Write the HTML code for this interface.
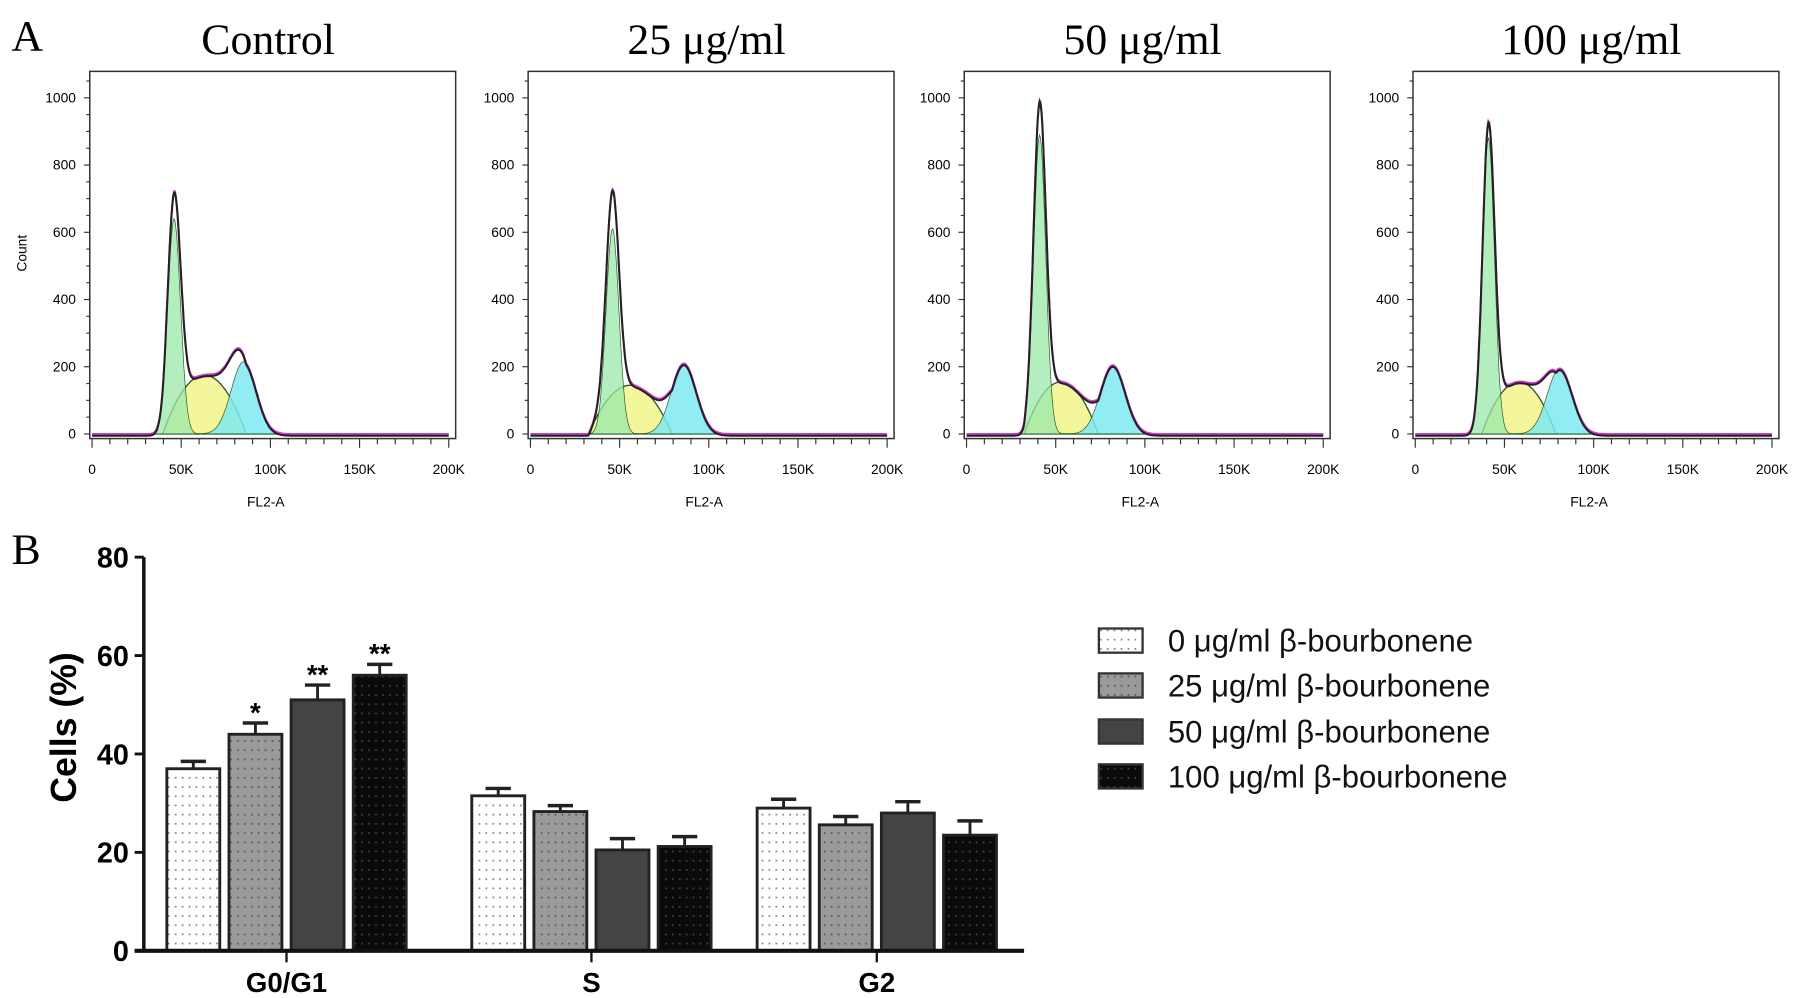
<!DOCTYPE html>
<html><head><meta charset="utf-8"><style>
html,body{margin:0;padding:0;background:#fff;}
svg{display:block;}
</style></head><body>
<svg id="fig" width="1795" height="998" viewBox="0 0 1560 867" preserveAspectRatio="none" xmlns="http://www.w3.org/2000/svg">
<defs>
<pattern id="pDotW" width="6" height="8" patternUnits="userSpaceOnUse"><rect width="6" height="8" fill="#fff"/><rect x="2" y="3" width="1.4" height="1.4" fill="#777"/></pattern>
<pattern id="pDotG" width="6" height="8" patternUnits="userSpaceOnUse"><rect width="6" height="8" fill="#9a9a9a"/><rect x="2" y="3" width="1.5" height="1.5" fill="#555"/></pattern>
<pattern id="pDotK" width="6" height="8" patternUnits="userSpaceOnUse"><rect width="6" height="8" fill="#0a0a0a"/><rect x="2" y="3" width="1.5" height="1.5" fill="#444"/></pattern>
</defs>
<g id="panelA"></g>
<g id="panelB"></g>
</svg>
<script>
// ---------- Panel A data ----------
const histTitles = ["Control", "25 μg/ml", "50 μg/ml", "100 μg/ml"];
const g1Height = [640, 610, 890, 880];
const g1Pos = [46, 46, 41, 41];      // K
const g1Width = [3.6, 3.6, 3.4, 3.4];
const sHeight = [175, 145, 155, 155];
const sPos = [63, 56, 53, 58];
const sWidth = [9, 9, 8, 8];
const g2Height = [215, 210, 205, 195];
const g2Pos = [85, 86, 82, 81];
const g2Width = [7, 7, 7, 7];
const yTicksA = [0, 200, 400, 600, 800, 1000];
const xTicksA = [0, 50, 100, 150, 200];
const xTickLabelsA = ["0", "50K", "100K", "150K", "200K"];

// ---------- Panel B data ----------
const phases = ["G0/G1", "S", "G2"];
const seriesNames = ["0 μg/ml β-bourbonene", "25 μg/ml β-bourbonene", "50 μg/ml β-bourbonene", "100 μg/ml β-bourbonene"];
const valsS0 = [37, 31.5, 29];
const valsS1 = [44, 28.3, 25.6];
const valsS2 = [51, 20.5, 28];
const valsS3 = [56, 21.2, 23.5];
const errS0 = [1.5, 1.5, 1.8];
const errS1 = [2.3, 1.2, 1.7];
const errS2 = [3.0, 2.3, 2.3];
const errS3 = [2.2, 2.0, 2.9];
const stars = [["", "*", "**", "**"], ["", "", "", ""], ["", "", "", ""]];
const yTicksB = [0, 20, 40, 60, 80];

const NS = "http://www.w3.org/2000/svg";
function mk(tag, attrs, parent, txt) {
  const e = document.createElementNS(NS, tag);
  for (const k in attrs) e.setAttribute(k, attrs[k]);
  if (txt !== undefined) e.textContent = txt;
  parent.appendChild(e);
  return e;
}
const A = document.getElementById('panelA');
const B = document.getElementById('panelB');

let t = mk('text', {x: 10, y: 44, 'font-family': 'Liberation Serif, serif', 'font-size': 38}, A, 'A');



const panelLeft = [78, 459, 838, 1228];
const pW = 318, pTop = 62, pBot = 381;
const gauss = (x, h, m, s) => h * Math.exp(-0.5 * ((x - m) / s) ** 2);

for (let p = 0; p < 4; p++) {
  const L = panelLeft[p];
  const xs = v => L + 2 + v / 200 * (pW - 8);
  const ys = v => 377 - v / 1000 * 292;
  const g = mk('g', {}, A);
  
  
  t = mk('text', {x: L + pW / 2 - 4, y: 47, 'text-anchor': 'middle', 'font-family': 'Liberation Serif, serif', 'font-size': 38}, g, histTitles[p]);
  
  
  let r = mk('rect', {x: L, y: pTop, width: pW, height: pBot - pTop, fill: 'none', stroke: '#333', 'stroke-width': 1.3}, g);
  
  
  for (let v = 0; v <= 1050; v += 50) mk('line', {x1: L, x2: L - (v % 200 === 0 ? 5 : 3), y1: ys(v), y2: ys(v), stroke: '#333', 'stroke-width': 1}, g);
  for (let v = 0; v <= 200; v += 10) mk('line', {x1: xs(v), x2: xs(v), y1: pBot, y2: pBot + (v % 50 === 0 ? 8 : 5), stroke: '#333', 'stroke-width': 1}, g);
  yTicksA.forEach(v => {
    t = mk('text', {x: L - 12, y: ys(v) + 4, 'text-anchor': 'end', 'font-family': 'Liberation Sans, sans-serif', 'font-size': 12}, g, v);
    
    
  });
  xTicksA.forEach((v, i) => {
    t = mk('text', {x: xs(v), y: 412, 'text-anchor': 'middle', 'font-family': 'Liberation Sans, sans-serif', 'font-size': 12}, g, xTickLabelsA[i]);
    
    
  });
  t = mk('text', {x: L + pW / 2 - 6, y: 440, 'text-anchor': 'middle', 'font-family': 'Liberation Sans, sans-serif', 'font-size': 12}, g, 'FL2-A');
  
  
  if (p === 0) {
    t = mk('text', {x: 0, y: 0, transform: 'translate(23,220) rotate(-90)', 'text-anchor': 'middle', 'font-family': 'Liberation Sans, sans-serif', 'font-size': 12}, g, 'Count');
    
    
  }
  const comp = (k, v) => k === 0 ? gauss(v, g1Height[p], g1Pos[p], g1Width[p]) :
    k === 1 ? (Math.abs(v - sPos[p]) < 2.6 * sWidth[p] ? sHeight[p] * Math.max(0, 1 - ((v - sPos[p]) / (2.6 * sWidth[p])) ** 2) : 0) :
    gauss(v, g2Height[p], g2Pos[p], g2Width[p]);
  const fills = ['#9be8a9', '#f2f48a', '#7ee9f2'];
  const names = ['g1-peak', 's-phase-fill', 'g2-peak'];
  [1, 2, 0].forEach(k => {
    let d = 'M' + xs(15) + ',' + ys(0);
    for (let v = 15; v <= 120; v += 0.5) d += 'L' + xs(v).toFixed(1) + ',' + ys(comp(k, v)).toFixed(1);
    d += 'L' + xs(120) + ',' + ys(0) + 'Z';
    const pa = mk('path', {d: d, fill: fills[k], 'fill-opacity': k === 0 ? 0.75 : 0.85, stroke: '#2d5a2d', 'stroke-width': k === 1 ? 1.2 : 0.6}, g);
    
    
  });
  let dm = '', dk = '';
  for (let v = 0; v <= 200; v += 0.5) {
    const s = comp(0, v) + comp(1, v) + comp(2, v);
    dm += (v === 0 ? 'M' : 'L') + xs(v).toFixed(1) + ',' + ys(s).toFixed(1);
    dk += (v === 0 ? 'M' : 'L') + xs(v).toFixed(1) + ',' + (ys(s) + 1.5).toFixed(1);
  }
  let pm = mk('path', {d: dm, fill: 'none', stroke: '#d43ad4', 'stroke-width': 1.6}, g);
  
  
  let pk = mk('path', {d: dk, fill: 'none', stroke: '#222', 'stroke-width': 1.8}, g);
  
  
}

// ---------- Panel B ----------
t = mk('text', {x: 10, y: 490, 'font-family': 'Liberation Serif, serif', 'font-size': 38}, B, 'B');


const yB = v => 826 - v / 80 * 342;
const groupCenter = [249, 514, 762];
const barW = 46, barStep = 54;
const fillsB = ['url(#pDotW)', 'url(#pDotG)', '#444', 'url(#pDotK)'];
const vals = [valsS0, valsS1, valsS2, valsS3];
const errs = [errS0, errS1, errS2, errS3];
for (let gi = 0; gi < phases.length; gi++) {
  for (let s = 0; s < 4; s++) {
    const cx = groupCenter[gi] + (s - 1.5) * barStep;
    const v = vals[s][gi], e = errs[s][gi];
    const et = yB(v + e);
    let el = mk('line', {x1: cx, x2: cx, y1: yB(v), y2: et, stroke: '#222', 'stroke-width': 2.5}, B);
    
    
    el = mk('line', {x1: cx - 11, x2: cx + 11, y1: et, y2: et, stroke: '#222', 'stroke-width': 3}, B);
    
    
    const r = mk('rect', {x: cx - barW / 2, y: yB(v), width: barW, height: yB(0) - yB(v), fill: fillsB[s], stroke: '#222', 'stroke-width': 2.5}, B);
    
    
    if (stars[gi][s]) {
      t = mk('text', {x: cx, y: et - 1, 'text-anchor': 'middle', 'font-family': 'Liberation Sans, sans-serif', 'font-weight': 'bold', 'font-size': 24}, B, stars[gi][s]);
      
      
    }
  }
  let tk = mk('line', {x1: groupCenter[gi], x2: groupCenter[gi], y1: 826, y2: 836, stroke: '#111', 'stroke-width': 2}, B);
  
  
  t = mk('text', {x: groupCenter[gi], y: 862, 'text-anchor': 'middle', 'font-family': 'Liberation Sans, sans-serif', 'font-weight': 'bold', 'font-size': 24}, B, phases[gi]);
  
  
}
let ax = mk('line', {x1: 125, x2: 125, y1: yB(80), y2: 827, stroke: '#111', 'stroke-width': 3}, B);


ax = mk('line', {x1: 117, x2: 890, y1: 826, y2: 826, stroke: '#111', 'stroke-width': 3.5}, B);


yTicksB.forEach(v => {
  mk('line', {x1: 117, x2: 125, y1: yB(v), y2: yB(v), stroke: '#111', 'stroke-width': 2.5}, B);
  t = mk('text', {x: 112, y: yB(v) + 9, 'text-anchor': 'end', 'font-family': 'Liberation Sans, sans-serif', 'font-weight': 'bold', 'font-size': 25}, B, v);
  
  
});
t = mk('text', {x: 0, y: 0, transform: 'translate(66,632) rotate(-90)', 'text-anchor': 'middle', 'font-family': 'Liberation Sans, sans-serif', 'font-weight': 'bold', 'font-size': 31}, B, 'Cells (%)');



const legendY = [556, 595, 635, 674];
seriesNames.forEach((n, i) => {
  const lg = mk('g', {}, B);
  
  
  mk('rect', {x: 955, y: legendY[i] - 10, width: 38, height: 21, fill: fillsB[i], stroke: '#333', 'stroke-width': 2}, lg);
  mk('text', {x: 1015, y: legendY[i] + 10, 'font-family': 'Liberation Sans, sans-serif', 'font-size': 27, fill: '#111'}, lg, n);
});
</script>
</body></html>
